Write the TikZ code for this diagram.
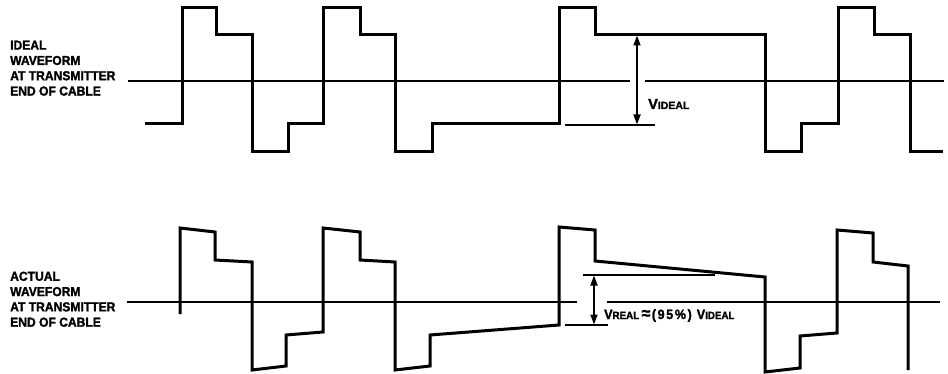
\documentclass[tikz,border=0pt]{standalone}
\usepackage{fontspec}
\newfontfamily\lblfont[FakeStretch=0.93, FakeBold=1.6]{Liberation Sans Bold}
\newfontfamily\vfont[FakeBold=1.6]{Liberation Sans Bold}
\usepackage{tikz}
\usetikzlibrary{arrows.meta, positioning}
\tikzset{
  wave/.style   = {line width=3pt, line join=miter, line cap=butt},
  axis/.style   = {line width=1.4pt},
  refl/.style   = {line width=1.3pt},
  dimarr/.style = {{Triangle[length=10pt,width=7pt]}-{Triangle[length=10pt,width=7pt]},
                   line width=1.8pt, shorten <=0.5pt, shorten >=0.5pt},
  side/.style   = {anchor=north west, inner sep=0pt, align=left,
                   font=\lblfont\fontsize{13}{15.3}\selectfont},
  vlbl/.style   = {anchor=base west, inner sep=0pt},
}
\newcommand{\vsub}[2]{V{\fontsize{#1}{#1}\selectfont #2}}

\begin{document}
\begin{tikzpicture}[x=1pt, y=-1pt]
  \useasboundingbox (0,0) rectangle (948,374);

  %% Ideal waveform (upper trace)
  \node[side] (idlbl) at (10,40.5)
        {IDEAL\\WAVEFORM\\AT TRANSMITTER\\END OF CABLE};
  \draw[axis] (128,81) -- (630,81);
  \draw[axis] (645,81) -- (944,81);
  \draw[wave] (145,124) -- (182,124) -- (182,8) -- (216,8) -- (216,35)
    -- (252,35) -- (252,152) -- (288,152) -- (288,124) -- (323,124)
    -- (323,8) -- (360,8) -- (360,35) -- (395,35) -- (395,152)
    -- (432,152) -- (432,124) -- (559,124) -- (559,8) -- (595,8)
    -- (595,35) -- (765,35) -- (765,152) -- (801,152) -- (801,124)
    -- (838,124) -- (838,8) -- (874,8) -- (874,35) -- (910,35)
    -- (910,152) -- (943,152);

  \coordinate (itop) at (637,35);
  \coordinate (ibot) at (637,125);
  \draw[refl] (565,125) -- (655,125);
  \draw[dimarr] (itop) -- (ibot);
  \node[vlbl, font=\vfont\fontsize{14.5}{15}\selectfont] (videal)
        at (648,109) {\vsub{10.5}{IDEAL}};

  %% Actual waveform (lower trace, drooping tops)
  \node[side] (aclbl) at (10,271.5)
        {ACTUAL\\WAVEFORM\\AT TRANSMITTER\\END OF CABLE};
  \draw[axis] (127,302) -- (577,302);
  \draw[axis] (607,302) -- (940,302);
  \draw[wave] (180,314) -- (180,228) -- (215,232) -- (215,260)
    -- (252,262) -- (252,370) -- (286,366) -- (286,335) -- (323,332)
    -- (323,228) -- (360,232) -- (360,260) -- (395,262) -- (395,370)
    -- (430,366) -- (430,335) -- (559,325) -- (559,227) -- (595,230)
    -- (595,261) -- (765,277) -- (765,372) -- (800,368) -- (800,336)
    -- (837,333) -- (837,230) -- (873,233) -- (873,262) -- (908,266)
    -- (908,370);

  \coordinate (rtop) at (594,275);
  \coordinate (rbot) at (594,325);
  \draw[refl] (583,275) -- (715,275);
  \draw[refl] (565,325) -- (608,325);
  \draw[dimarr] (rtop) -- (rbot);
  \node[vlbl, font=\lblfont\fontsize{13.5}{15}\selectfont] (vreal) at (604,319)
        {\vsub{10.5}{REAL}\hspace{2.5pt}{\fontsize{17}{17}\selectfont ≈}\hspace{1.5pt}%
         {\addfontfeature{LetterSpace=12}(95\%)}\hspace{5pt}\vsub{10.5}{IDEAL}};

\end{tikzpicture}
\end{document}
